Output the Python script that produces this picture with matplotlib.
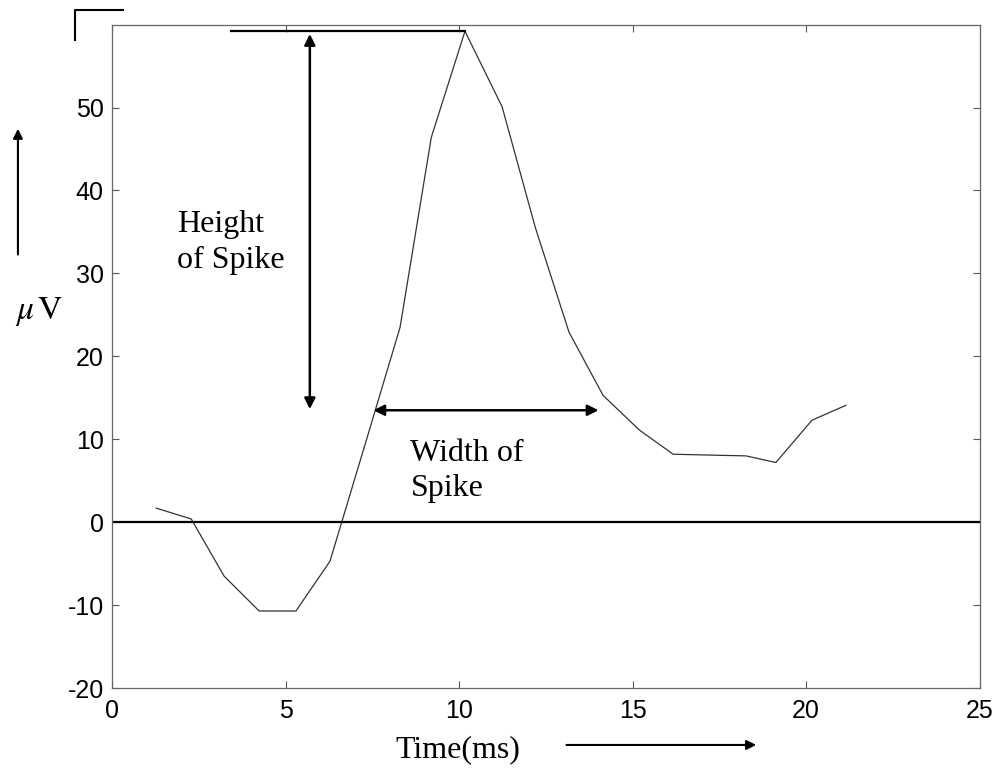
import matplotlib
matplotlib.use("Agg")
import matplotlib.pyplot as plt
from matplotlib.lines import Line2D
from matplotlib.patches import FancyArrowPatch

plt.rcParams['mathtext.fontset'] = 'stix'
plt.rcParams['axes.unicode_minus'] = False

# spike waveform
time_ms = [1.27, 2.28, 3.23, 4.24, 5.3, 6.28, 7.3, 8.3, 9.2, 10.17, 11.24,
           12.2, 13.17, 14.15, 15.2, 16.17, 17.2, 18.27, 19.13, 20.17, 21.15]
micro_v = [1.7, 0.4, -6.5, -10.7, -10.7, -4.7, 9.5, 23.5, 46.4, 59.2, 50.1,
           35.5, 22.9, 15.3, 11.1, 8.2, 8.1, 8.0, 7.2, 12.3, 14.1]

x_ticks = [0, 5, 10, 15, 20, 25]
y_ticks = [-20, -10, 0, 10, 20, 30, 40, 50]

peak_t = 10.17
peak_v = 59.2
height_x = 5.7
height_bottom = 13.3
width_y = 13.5
width_left = 7.45
width_right = 14.1

serif = 'Liberation Serif'
sans = 'Liberation Sans'

fig = plt.figure(figsize=(9.96, 7.68), dpi=100)
ax = fig.add_axes([0.1125, 0.104, 0.871, 0.864])

ax.plot(time_ms, micro_v, color='#333333', lw=0.9)
ax.axhline(0, color='black', lw=1.6)

ax.set_xlim(0, 25)
ax.set_ylim(-20, 60)
ax.set_xticks(x_ticks)
ax.set_yticks(y_ticks)
ax.tick_params(direction='in', top=True, right=True, length=5, width=0.8,
               color='#555555', labelsize=18)
ax.tick_params(axis='x', pad=8)
ax.tick_params(axis='y', pad=6)
for lab in ax.get_xticklabels() + ax.get_yticklabels():
    lab.set_fontfamily(sans)
for s in ax.spines.values():
    s.set_color('#666666')
    s.set_linewidth(0.9)

# height of spike
ax.plot([3.43, peak_t], [peak_v, peak_v], color='black', lw=1.6)
ax.annotate('', xy=(height_x, height_bottom), xytext=(height_x, peak_v),
            arrowprops=dict(arrowstyle='<|-|>', color='black', lw=1.8,
                            mutation_scale=16))
ax.text(1.87, 37.6, 'Height\nof Spike', family=serif, fontsize=23,
        va='top', ha='left', linespacing=1.3)

# width of spike
ax.annotate('', xy=(width_left, width_y), xytext=(width_right, width_y),
            arrowprops=dict(arrowstyle='<|-|>', color='black', lw=1.8,
                            mutation_scale=16))
ax.text(8.6, 10.0, 'Width of\nSpike', family=serif, fontsize=23,
        va='top', ha='left', linespacing=1.25)

# axis labels with arrows
fig.text(0.46, 0.024, 'Time(ms)', family=serif, fontsize=23,
         ha='center', va='center')
fig.patches.append(FancyArrowPatch(
    (0.566, 0.030), (0.762, 0.030), transform=fig.transFigure,
    arrowstyle='-|>', mutation_scale=14, color='black', lw=1.5))
fig.text(0.039, 0.594, r'$\mu\,\mathrm{V}$', fontsize=24,
         ha='center', va='center')
fig.patches.append(FancyArrowPatch(
    (0.018, 0.665), (0.018, 0.836), transform=fig.transFigure,
    arrowstyle='-|>', mutation_scale=14, color='black', lw=1.5))

# corner mark at top left of the scan
fig.add_artist(Line2D([0.0753, 0.0753, 0.1235], [0.948, 0.987, 0.987],
                      color='black', lw=1.5))

fig.savefig('out.png', dpi=100)
